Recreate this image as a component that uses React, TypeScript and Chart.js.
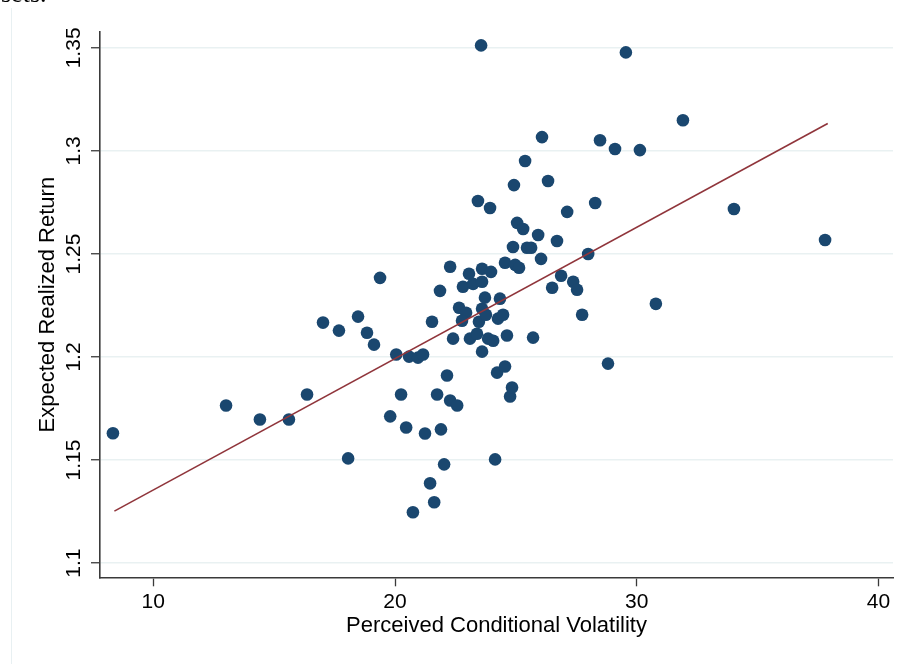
import React, { useEffect, useRef } from "react";
import { Chart, registerables } from "chart.js";

Chart.register(...registerables);

// Perceived conditional volatility (x) and expected realized return (y), one entry per observation
const volatility = [
  8.33, 13.01, 14.41, 15.61, 16.36, 17.02, 17.68, 18.06, 18.47, 18.84,
  19.13, 19.38, 19.8, 20.05, 20.25, 20.46, 20.58, 20.95, 21.16, 20.74,
  21.24, 21.45, 21.62, 21.53, 21.74, 21.86, 21.9, 22.03, 22.15, 22.28,
  22.57, 22.28, 22.4, 22.65, 22.94, 22.77, 22.81, 23.06, 23.1, 23.23,
  23.39, 23.43, 23.47, 23.56, 23.6, 23.6, 23.6, 23.6, 23.72, 23.76,
  23.85, 23.93, 23.97, 24.06, 24.14, 24.22, 24.26, 24.34, 24.47, 24.55,
  24.55, 24.63, 24.76, 24.84, 24.88, 24.92, 24.97, 25.05, 25.13, 25.3,
  25.38, 25.46, 25.63, 25.71, 25.92, 26.04, 26.08, 26.33, 26.5, 26.7,
  26.87, 27.12, 27.37, 27.53, 27.74, 27.99, 28.28, 28.48, 28.81, 29.1,
  29.55, 30.13, 30.79, 31.91, 34.02, 37.79,
];

const realizedReturn = [
  1.163, 1.1765, 1.1697, 1.1697, 1.1818, 1.2167, 1.2128, 1.1508, 1.2196, 1.2118,
  1.206, 1.2384, 1.1712, 1.2012, 1.1818, 1.1658, 1.2002, 1.1997, 1.2012, 1.1247,
  1.1629, 1.1387, 1.1295, 1.2171, 1.1818, 1.2321, 1.1649, 1.1479, 1.191, 1.1789,
  1.1765, 1.2438, 1.2089, 1.2239, 1.2215, 1.2176, 1.2341, 1.2404, 1.2089, 1.2355,
  1.2113, 1.2757, 1.2171, 1.3512, 1.2365, 1.2428, 1.2234, 1.2026, 1.2288, 1.2205,
  1.2089, 1.2723, 1.2413, 1.2079, 1.1503, 1.1924, 1.2186, 1.2283, 1.2205, 1.1954,
  1.2457, 1.2104, 1.1808, 1.1852, 1.2534, 1.2834, 1.2447, 1.2651, 1.2433, 1.2621,
  1.2951, 1.253, 1.253, 1.2094, 1.2592, 1.2476, 1.3067, 1.2854, 1.2336, 1.2563,
  1.2394, 1.2704, 1.2365, 1.2326, 1.2205, 1.25, 1.2747, 1.3052, 1.1968, 1.3009,
  1.3478, 1.3004, 1.2258, 1.3149, 1.2718, 1.2568,
];

// Linear fit drawn across the range of the data
const fitX = [8.39, 37.9];
const fitY = [1.1252, 1.3133];

// Axis ticks
const xTicks = [10, 20, 30, 40];
const yTicks = [1.1, 1.15, 1.2, 1.25, 1.3, 1.35];
const yTickLabels = ["1.1", "1.15", "1.2", "1.25", "1.3", "1.35"];

const FONT = '"Liberation Sans", Arial, Helvetica, sans-serif';
const MARKER = "#1a476f";
const FIT_LINE = "#90353b";
const GRID = "#e9f1f2";
const AXIS = "#3a3a3a";

// Page furniture around the graph: the frame edge on the left and the trailing text above
const pageDecor = {
  id: "pageDecor",
  beforeDraw(chart: Chart) {
    const ctx = chart.ctx;
    ctx.save();
    ctx.fillStyle = "#ffffff";
    ctx.fillRect(0, 0, chart.width, chart.height);
    ctx.strokeStyle = "#e8f0f2";
    ctx.lineWidth = 1;
    ctx.beginPath();
    ctx.moveTo(11.5, 8);
    ctx.lineTo(11.5, chart.height);
    ctx.stroke();
    ctx.fillStyle = "#000000";
    ctx.font = '26px "Liberation Serif", serif';
    ctx.textBaseline = "alphabetic";
    ctx.fillText("sets.", 1, 1.5);
    ctx.restore();
  },
};

export default function App() {
  const canvasRef = useRef<HTMLCanvasElement | null>(null);

  useEffect(() => {
    const canvas = canvasRef.current;
    if (!canvas) return;

    const points = volatility.map((v, i) => ({ x: v, y: realizedReturn[i] }));
    const fitPoints = fitX.map((v, i) => ({ x: v, y: fitY[i] }));

    const chart = new Chart(canvas, {
      type: "scatter",
      data: {
        datasets: [
          {
            type: "line",
            label: "Fitted values",
            data: fitPoints,
            borderColor: FIT_LINE,
            borderWidth: 1.6,
            pointRadius: 0,
            fill: false,
            order: 0,
          },
          {
            type: "scatter",
            label: "Expected Realized Return",
            data: points,
            backgroundColor: MARKER,
            borderColor: MARKER,
            borderWidth: 0,
            pointRadius: 6.3,
            order: 1,
          },
        ],
      },
      options: {
        responsive: false,
        animation: false,
        devicePixelRatio: 1,
        layout: { padding: { top: 32, right: 13, bottom: 0, left: 0 } },
        plugins: {
          legend: { display: false },
          tooltip: { enabled: false },
        },
        scales: {
          x: {
            type: "linear",
            min: 7.795,
            max: 40.6,
            afterBuildTicks: (scale: any) => {
              scale.ticks = xTicks.map((v) => ({ value: v }));
            },
            afterFit: (scale: any) => {
              scale.height = 86.7;
            },
            ticks: {
              color: "#000000",
              font: { family: FONT, size: 21 },
              padding: 3,
              maxRotation: 0,
              autoSkip: false,
            },
            grid: {
              drawOnChartArea: false,
              color: "rgba(0,0,0,0)",
              tickColor: AXIS,
              tickLength: 9,
              tickWidth: 1.3,
            },
            border: { display: true, color: AXIS, width: 1.6 },
            title: {
              display: true,
              text: "Perceived Conditional Volatility",
              color: "#000000",
              font: { family: FONT, size: 22 },
              padding: { top: 0, bottom: 25 },
            },
          },
          y: {
            type: "linear",
            min: 1.0931,
            max: 1.3577,
            afterBuildTicks: (scale: any) => {
              scale.ticks = yTicks.map((v) => ({ value: v }));
            },
            afterFit: (scale: any) => {
              scale.width = 100;
            },
            ticks: {
              color: "#000000",
              font: { family: FONT, size: 21 },
              minRotation: 90,
              maxRotation: 90,
              crossAlign: "center",
              padding: -4,
              autoSkip: false,
              callback: (value: any) => {
                const idx = yTicks.findIndex((t) => Math.abs(t - Number(value)) < 1e-9);
                return idx >= 0 ? yTickLabels[idx] : "";
              },
            },
            grid: {
              color: GRID,
              lineWidth: 1.5,
              tickColor: AXIS,
              tickLength: 9,
              tickWidth: 1.3,
            },
            border: { display: true, color: AXIS, width: 1.6 },
            title: {
              display: true,
              text: "Expected Realized Return",
              color: "#000000",
              font: { family: FONT, size: 22 },
              padding: { top: 35, bottom: 0 },
            },
          },
        },
      },
      plugins: [pageDecor],
    });

    return () => {
      chart.destroy();
    };
  }, []);

  return (
    <div
      style={{
        position: "fixed",
        left: 0,
        top: 0,
        width: 906,
        height: 664,
        background: "#ffffff",
      }}
    >
      <canvas ref={canvasRef} width={906} height={664} style={{ display: "block" }} />
    </div>
  );
}
